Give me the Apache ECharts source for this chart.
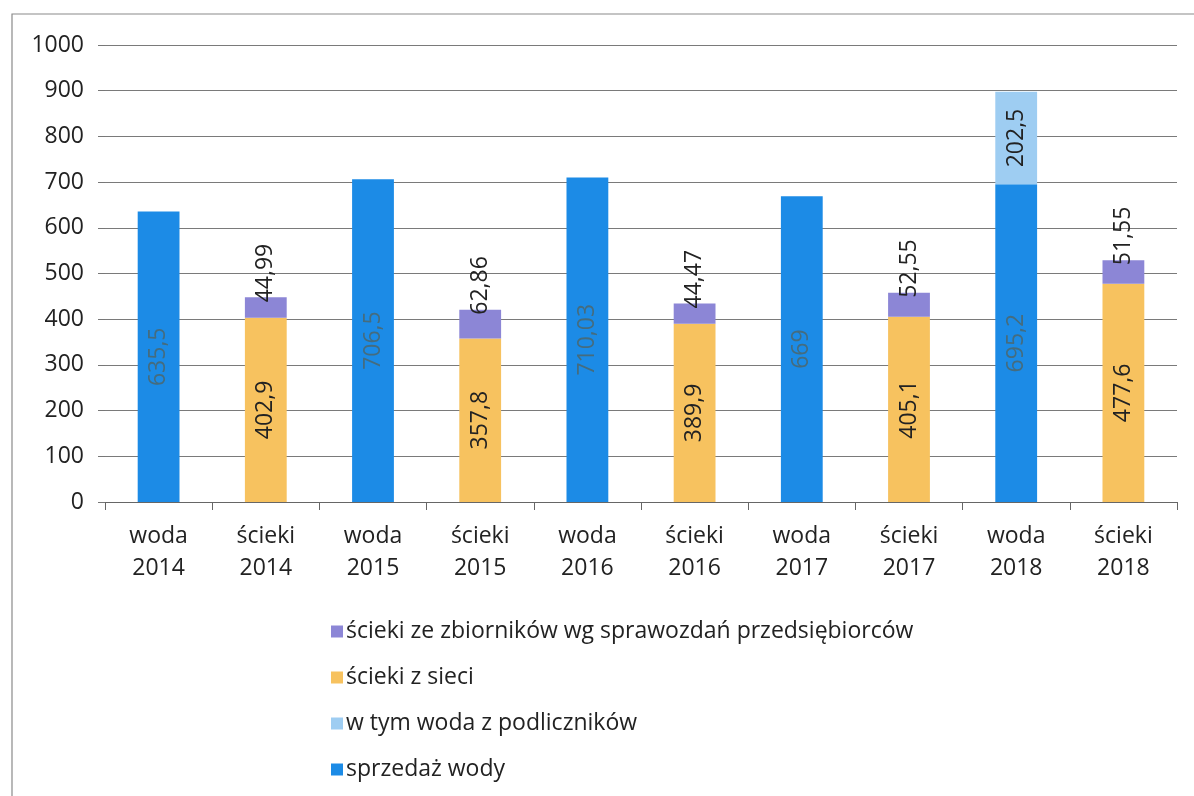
<!DOCTYPE html>
<html><head><meta charset="utf-8">
<script src="https://cdn.jsdelivr.net/npm/echarts@6/dist/echarts.min.js"></script>
<style>html,body{margin:0;padding:0;background:#fff}#c{width:1194px;height:796px}</style>
</head><body><div id="c"></div>
<script>
var categories = ['woda\n2014','ścieki\n2014','woda\n2015','ścieki\n2015','woda\n2016','ścieki\n2016','woda\n2017','ścieki\n2017','woda\n2018','ścieki\n2018'];
var sprzedazWody = [635.5,'-',706.5,'-',710.03,'-',669,'-',695.2,'-'];
var wodaPodliczniki = ['-','-','-','-','-','-','-','-',202.5,'-'];
var sciekiSiec = ['-',402.9,'-',357.8,'-',389.9,'-',405.1,'-',477.6];
var sciekiZbiorniki = ['-',44.99,'-',62.86,'-',44.47,'-',52.55,'-',51.55];
var yTicks = [0,1000,100];

var FONT = '"Open Sans", sans-serif';
function fmt(p){ return String(p.value).replace('.', ','); }
var chart = echarts.init(document.getElementById('c'));
chart.setOption({
  animation: false,
  textStyle: {fontFamily: FONT},
  graphic: [{type:'rect', shape:{x:12,y:14,width:1200,height:800}, style:{fill:'none', stroke:'#8a8a8a', lineWidth:1.2}, silent:true}],
  grid: {left: 105, right: 17, top: 45, bottom: 294},
  legend: {
    orient: 'vertical', left: 326, top: 614, itemGap: 21,
    itemWidth: 12, itemHeight: 12, icon: 'rect',
    textStyle: {fontSize: 23, lineHeight: 25, color: '#222', fontFamily: FONT, padding: [0,0,0,-2]},
    data: ['ścieki ze zbiorników wg sprawozdań przedsiębiorców','ścieki z sieci','w tym woda z podliczników','sprzedaż wody']
  },
  xAxis: {
    type: 'category', data: categories,
    axisLine: {lineStyle: {color: '#666', width: 1.2}},
    axisTick: {show: true, length: 8, lineStyle: {color: '#666'}},
    axisLabel: {fontSize: 23, color: '#222', lineHeight: 32, margin: 18, interval: 0}
  },
  yAxis: {
    type: 'value', min: yTicks[0], max: yTicks[1], interval: yTicks[2],
    axisLine: {show: false},
    axisTick: {show: true, length: 7, lineStyle: {color: '#777'}},
    axisLabel: {fontSize: 23, color: '#222', margin: 21, formatter: function(v){ return String(v); }},
    splitLine: {lineStyle: {color: '#7a7a7a', width: 1}}
  },
  series: [
    {name: 'sprzedaż wody', type: 'bar', stack: 's', data: sprzedazWody, barWidth: '39%',
     itemStyle: {color: '#1c8be6'},
     label: {show: true, position: 'inside', rotate: 90, formatter: fmt, fontSize: 23, color: '#456c7e'}},
    {name: 'w tym woda z podliczników', type: 'bar', stack: 's', data: wodaPodliczniki, barWidth: '39%',
     itemStyle: {color: '#9ecdf2'},
     label: {show: true, position: 'inside', rotate: 90, formatter: fmt, fontSize: 23, color: '#222'}},
    {name: 'ścieki z sieci', type: 'bar', stack: 's', data: sciekiSiec, barWidth: '39%',
     itemStyle: {color: '#f7c25f'},
     label: {show: true, position: 'inside', rotate: 90, formatter: fmt, fontSize: 23, color: '#222'}},
    {name: 'ścieki ze zbiorników wg sprawozdań przedsiębiorców', type: 'bar', stack: 's', data: sciekiZbiorniki, barWidth: '39%',
     itemStyle: {color: '#8c86d6'},
     label: {show: true, position: 'top', rotate: 90, align: 'left', verticalAlign: 'middle', distance: -5, formatter: fmt, fontSize: 23, color: '#222'}}
  ]
});
</script></body></html>
